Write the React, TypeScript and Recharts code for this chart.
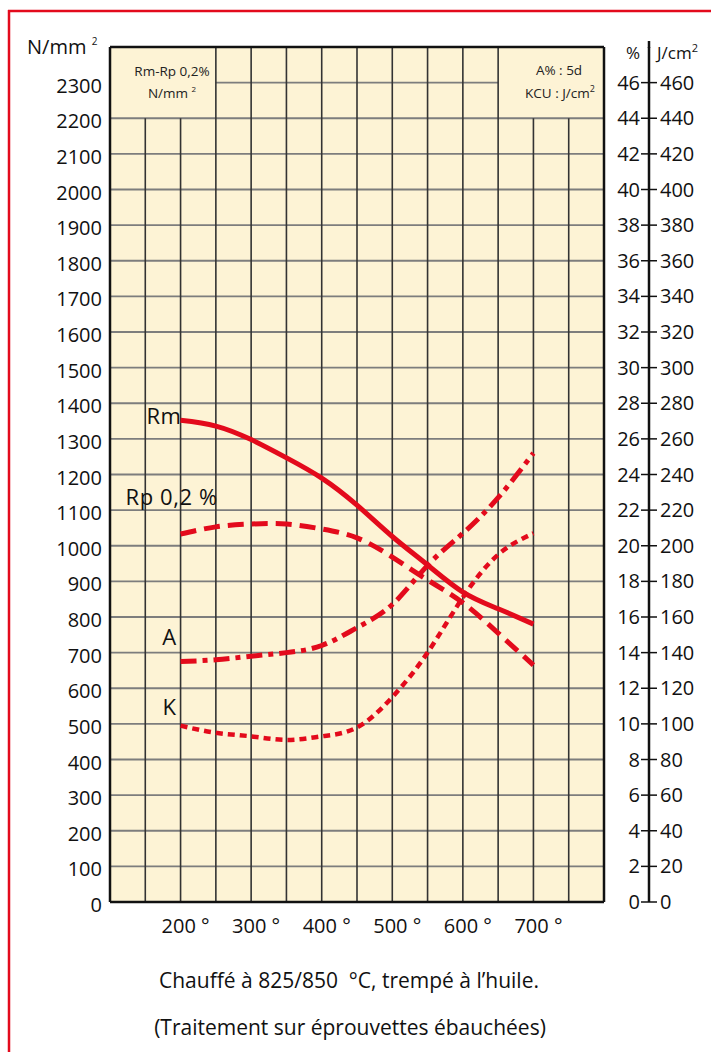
import React from 'react';
import { LineChart, Line, XAxis, YAxis, CartesianGrid, ReferenceLine } from 'recharts';

// tempering temperature (°C)
const temps = [200, 250, 300, 350, 400, 450, 500, 550, 600, 650, 700];
// Rm and Rp 0,2% in N/mm²
const rmValues = [1352, 1336, 1298, 1247, 1190, 1114, 1026, 946, 870, 823, 780];
const rpValues = [1033, 1053, 1061, 1061, 1047, 1022, 968, 904, 840, 755, 665];
// A% (5d) and KCU J/cm²
const aValues = [13.5, 13.6, 13.8, 14.0, 14.4, 15.4, 16.7, 18.9, 20.7, 22.7, 25.2];
const kValues = [99, 95, 93, 91, 93, 98, 115, 140, 171, 195, 207];

const tempTicks = [200, 300, 400, 500, 600, 700];
const mpaTicks = [0, 100, 200, 300, 400, 500, 600, 700, 800, 900, 1000, 1100, 1200, 1300, 1400, 1500, 1600, 1700, 1800, 1900, 2000, 2100, 2200, 2300];
const pctTicks = [0, 2, 4, 6, 8, 10, 12, 14, 16, 18, 20, 22, 24, 26, 28, 30, 32, 34, 36, 38, 40, 42, 44, 46];
const kcuTicks = [0, 20, 40, 60, 80, 100, 120, 140, 160, 180, 200, 220, 240, 260, 280, 300, 320, 340, 360, 380, 400, 420, 440, 460];

// grid
const gridTempsShort = [150, 200, 700, 750];
const gridTempsTall = [250, 300, 350, 400, 450, 500, 550, 600, 650];
const gridLevels = [100, 200, 300, 400, 500, 600, 700, 800, 900, 1000, 1100, 1200, 1300, 1400, 1500, 1600, 1700, 1800, 1900, 2000, 2100, 2200];

const data = temps.map((t, i) => ({ t, rm: rmValues[i], rp: rpValues[i], a: aValues[i], k: kValues[i] }));

const RED = '#e30a1c';
const FONT = "'Open Sans', 'Noto Sans', sans-serif";

const LeftTick = ({ x, y, payload }: any) => (
  <text x={x} y={y + 3} dy="0.355em" textAnchor="end" fontSize={20} fill="#111">{payload.value}</text>
);

const PctTick = ({ x, y, payload }: any) => (
  <g>
    <text x={x + 36} y={y} dy="0.355em" textAnchor="end" fontSize={20} fill="#111">{payload.value}</text>
    <line x1={x + 37} x2={x + 45} y1={y} y2={y} stroke="#111" strokeWidth={1.5} />
  </g>
);

const firstLabel = (text: string, dx: number, dy: number, anchor: string) => (p: any) =>
  p.index === 0 ? (
    <text x={p.x + dx} y={p.y + dy} dy="0.355em" textAnchor={anchor} fontSize={22} letterSpacing={0.6} fill="#111">{text}</text>
  ) : null;

export default function App() {
  return (
    <div style={{ position: 'absolute', left: 0, top: 0, width: 711, height: 1052, background: '#fff', fontFamily: FONT }}>
      <LineChart width={711} height={1052} data={data} margin={{ top: 47, right: 0, bottom: 110, left: 30 }}>
        <CartesianGrid yAxisId="a_pct" horizontal={false} vertical={false} fill="#fdf3d5" />
        <XAxis
          dataKey="t"
          type="number"
          domain={[100, 800]}
          ticks={tempTicks}
          interval={0}
          height={40}
          tickSize={0}
          tickMargin={17}
          tickLine={false}
          axisLine={{ stroke: '#111', strokeWidth: 2.5 }}
          tickFormatter={(v) => `${v} °`}
          tick={{ fontSize: 20, fill: '#111', dx: 5 }}
        />
        <YAxis
          yAxisId="mpa"
          domain={[0, 2400]}
          ticks={mpaTicks}
          interval={0}
          width={80}
          tickSize={0}
          tickMargin={8}
          tickLine={false}
          axisLine={{ stroke: '#111', strokeWidth: 2.5 }}
          tick={<LeftTick />}
        />
        <YAxis
          yAxisId="b_kcu"
          orientation="right"
          domain={[0, 480]}
          ticks={kcuTicks}
          interval={0}
          width={62}
          tickSize={8}
          tickMargin={3}
          tickLine={{ stroke: '#111', strokeWidth: 1.5 }}
          axisLine={{ stroke: '#111', strokeWidth: 2.5 }}
          tick={{ fontSize: 20, fill: '#111' }}
        />
        <YAxis
          yAxisId="a_pct"
          orientation="right"
          domain={[0, 48]}
          ticks={pctTicks}
          interval={0}
          width={45}
          tickSize={0}
          tickMargin={0}
          tickLine={false}
          axisLine={{ stroke: '#111', strokeWidth: 2.5 }}
          tick={<PctTick />}
        />

        {gridLevels.map((v) => (
          <ReferenceLine key={`h${v}`} yAxisId="mpa" y={v} stroke="#7d7d7d" strokeWidth={1.8} />
        ))}
        <ReferenceLine yAxisId="mpa" segment={[{ x: 250, y: 2300 }, { x: 650, y: 2300 }]} stroke="#7d7d7d" strokeWidth={1.8} />
        {gridTempsShort.map((t) => (
          <ReferenceLine key={`vs${t}`} yAxisId="mpa" segment={[{ x: t, y: 0 }, { x: t, y: 2200 }]} stroke="#333" strokeWidth={1.6} />
        ))}
        {gridTempsTall.map((t) => (
          <ReferenceLine key={`vt${t}`} yAxisId="mpa" x={t} stroke="#333" strokeWidth={1.6} />
        ))}
        <ReferenceLine yAxisId="mpa" y={2400} stroke="#111" strokeWidth={2.5} />

        <Line yAxisId="mpa" dataKey="rm" type="natural" stroke={RED} strokeWidth={5} dot={false} activeDot={false} isAnimationActive={false}
          label={firstLabel('Rm', 1, -4, 'end')} />
        <Line yAxisId="mpa" dataKey="rp" type="natural" stroke={RED} strokeWidth={5} strokeDasharray="16 8" dot={false} activeDot={false} isAnimationActive={false}
          label={firstLabel('Rp 0,2 %', -55, -37, 'start')} />
        <Line yAxisId="a_pct" dataKey="a" type="natural" stroke={RED} strokeWidth={5} strokeDasharray="16 6 5 6" dot={false} activeDot={false} isAnimationActive={false}
          label={firstLabel('A', -11, -24, 'middle')} />
        <Line yAxisId="b_kcu" dataKey="k" type="natural" stroke={RED} strokeWidth={4.5} strokeDasharray="7 5" dot={false} activeDot={false} isAnimationActive={false}
          label={firstLabel('K', -11, -18, 'middle')} />
      </LineChart>

      <svg width={711} height={1052} style={{ position: 'absolute', left: 0, top: 0, pointerEvents: 'none' }}>
        <line x1={9} x2={9} y1={10} y2={1052} stroke={RED} strokeWidth={2.5} />
        <line x1={8} x2={711} y1={11} y2={11} stroke={RED} strokeWidth={2.5} />
        <line x1={649} x2={649} y1={41} y2={48} stroke="#111" strokeWidth={2.5} />

        <text x={27} y={54} fontSize={20} fill="#111">N/mm <tspan fontSize={10} dy={-9}>2</tspan></text>

        <text x={172} y={75.5} fontSize={13.5} fill="#222" textAnchor="middle">Rm-Rp 0,2%</text>
        <text x={172} y={98} fontSize={13.5} fill="#222" textAnchor="middle">N/mm <tspan fontSize={8} dy={-6}>2</tspan></text>
        <text x={559} y={75} fontSize={13.5} fill="#222" textAnchor="middle">A% : 5d</text>
        <text x={560} y={98} fontSize={13.5} fill="#222" textAnchor="middle">KCU : J/cm<tspan fontSize={9} dy={-6}>2</tspan></text>

        <text x={633} y={59} fontSize={17} fill="#111" textAnchor="middle">%</text>
        <text x={657} y={59} fontSize={17} fill="#111">J/cm<tspan fontSize={11} dy={-7}>2</tspan></text>

        <text x={349} y={988} fontSize={21} fill="#111" textAnchor="middle">{'Chauffé à 825/850\u00a0\u00a0°C, trempé à l’huile.'}</text>
        <text x={350} y={1035} fontSize={21} fill="#111" textAnchor="middle">(Traitement sur éprouvettes ébauchées)</text>
      </svg>
    </div>
  );
}
